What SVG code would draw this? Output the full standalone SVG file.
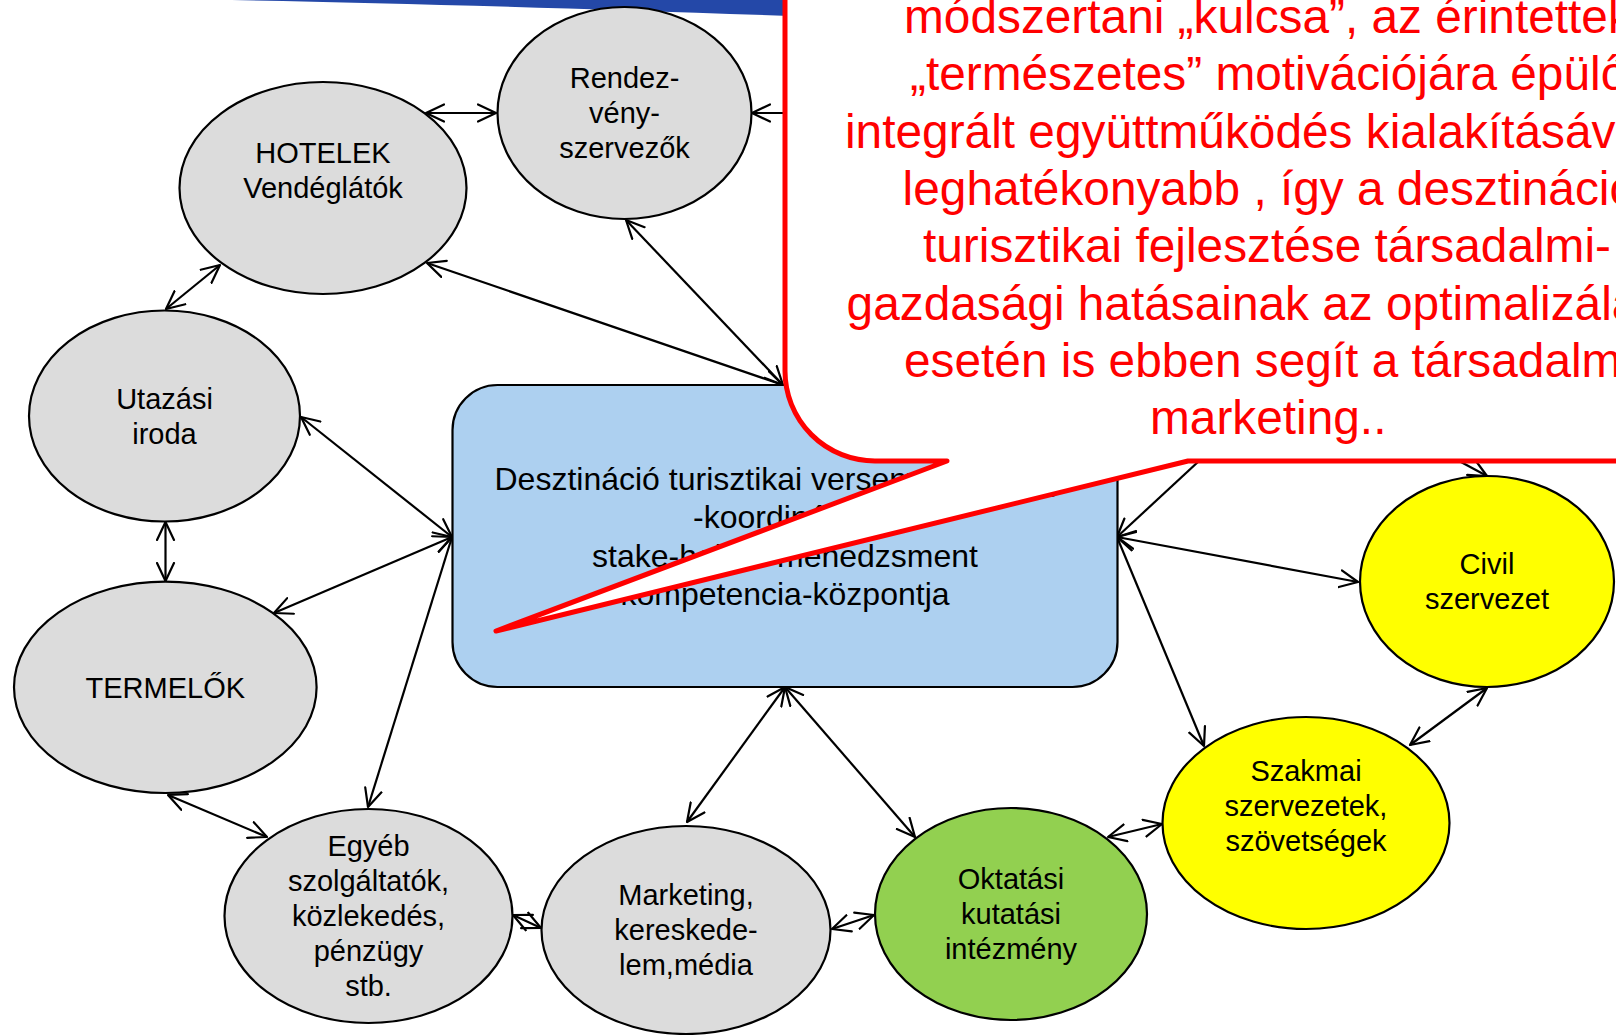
<svg xmlns="http://www.w3.org/2000/svg" width="1616" height="1035" viewBox="0 0 1616 1035">
<defs>
<marker id="arr" viewBox="0 0 20 20" refX="19" refY="10" markerWidth="20" markerHeight="20" markerUnits="userSpaceOnUse" orient="auto-start-reverse">
<path d="M1,1.5 L19,10 L1,18.5" fill="none" stroke="#000" stroke-width="2.2" stroke-linejoin="round" stroke-linecap="round"/>
</marker>
<style>
.c{stroke:#000;stroke-width:2.2;fill:none;marker-start:url(#arr);marker-end:url(#arr)}
.cs{stroke:#000;stroke-width:2.2;fill:none;marker-start:url(#arr)}
.ce{stroke:#000;stroke-width:2.2;fill:none;marker-end:url(#arr)}
.n{stroke:#000;stroke-width:2.2}
.g{fill:#DCDCDC}
.y{fill:#FFFF00}
.gr{fill:#92D050}
.t{font-family:"Liberation Sans",Arial,sans-serif;font-size:29px;fill:#000;text-anchor:middle}
.tb{font-family:"Liberation Sans",Arial,sans-serif;font-size:32px;fill:#000}
.tr{font-family:"Liberation Sans",Arial,sans-serif;font-size:47.8px;fill:#FF0000}
</style>
</defs>
<rect width="1616" height="1035" fill="#FFFFFF"/>
<path id="banner" d="M232,0 Q455,4 790,16 L790,0 Z" fill="#2448A8"/>

<g id="connectors">
<line class="c" x1="426" y1="113" x2="496" y2="113"/>
<line class="cs" x1="752" y1="113" x2="900" y2="113"/>
<line class="c" x1="626" y1="220" x2="783" y2="385"/>
<line class="c" x1="427" y1="263" x2="783" y2="385"/>
<line class="c" x1="220" y1="265" x2="166" y2="309"/>
<line class="c" x1="301" y1="417" x2="452" y2="537"/>
<line class="c" x1="165.5" y1="522" x2="165.5" y2="581"/>
<line class="c" x1="274" y1="613" x2="452" y2="537"/>
<line class="c" x1="368" y1="807" x2="452" y2="537"/>
<line class="c" x1="168" y1="795" x2="267" y2="837"/>
<line class="c" x1="513" y1="915" x2="541" y2="928"/>
<line class="c" x1="687" y1="822" x2="785" y2="687"/>
<line class="c" x1="785" y1="687" x2="915" y2="837"/>
<line class="c" x1="832" y1="929" x2="874" y2="915"/>
<line class="c" x1="1108" y1="837" x2="1162" y2="824"/>
<line class="c" x1="1410" y1="745" x2="1487" y2="688"/>
<line class="c" x1="1117" y1="537" x2="1358" y2="582"/>
<line class="c" x1="1117" y1="537" x2="1204" y2="746"/>
<line class="cs" x1="1117" y1="537" x2="1240" y2="423"/>
<line class="ce" x1="1420" y1="440" x2="1487" y2="476"/>
</g>

<g id="hotelek">
<ellipse class="n g" cx="323" cy="188" rx="143.5" ry="106"/>
<text class="t" x="323" y="163">HOTELEK</text>
<text class="t" x="323" y="198">Vendéglátók</text>
</g>
<g id="rendezvenyszervezok">
<ellipse class="n g" cx="624.5" cy="113" rx="127" ry="106"/>
<text class="t" x="624.5" y="88">Rendez-</text>
<text class="t" x="624.5" y="123">vény-</text>
<text class="t" x="624.5" y="158">szervezők</text>
</g>
<g id="utazasi">
<ellipse class="n g" cx="164.5" cy="416" rx="135.5" ry="105.5"/>
<text class="t" x="164.5" y="408.5">Utazási</text>
<text class="t" x="164.5" y="443.5">iroda</text>
</g>
<g id="termelok">
<ellipse class="n g" cx="165.3" cy="687.3" rx="151.3" ry="105.7"/>
<text class="t" x="165.3" y="697.5">TERMELŐK</text>
</g>
<g id="egyeb">
<ellipse class="n g" cx="368.5" cy="916" rx="144" ry="107"/>
<text class="t" x="368.5" y="856">Egyéb</text>
<text class="t" x="368.5" y="891">szolgáltatók,</text>
<text class="t" x="368.5" y="926">közlekedés,</text>
<text class="t" x="368.5" y="961">pénzügy</text>
<text class="t" x="368.5" y="996">stb.</text>
</g>
<g id="marketing">
<ellipse class="n g" cx="686" cy="930" rx="144.5" ry="104"/>
<text class="t" x="686" y="905">Marketing,</text>
<text class="t" x="686" y="940">kereskede-</text>
<text class="t" x="686" y="975">lem,média</text>
</g>
<g id="oktatasi">
<ellipse class="n gr" cx="1011" cy="914" rx="136" ry="106"/>
<text class="t" x="1011" y="889">Oktatási</text>
<text class="t" x="1011" y="924">kutatási</text>
<text class="t" x="1011" y="959">intézmény</text>
</g>
<g id="szakmai">
<ellipse class="n y" cx="1306" cy="823" rx="143.5" ry="106"/>
<text class="t" x="1306" y="780.5">Szakmai</text>
<text class="t" x="1306" y="815.5">szervezetek,</text>
<text class="t" x="1306" y="850.5">szövetségek</text>
</g>
<g id="civil">
<ellipse class="n y" cx="1487" cy="581.5" rx="127" ry="105.5"/>
<text class="t" x="1487" y="573.5">Civil</text>
<text class="t" x="1487" y="608.5">szervezet</text>
</g>
<g id="kozpont">
<rect class="n" x="452.5" y="385" width="665" height="302" rx="45" ry="45" fill="#ADD0F0"/>
<text class="tb" x="494.5" y="490">Desztináció turisztikai versenyképesség-</text>
<text class="tb" x="693" y="528">-koordinációs</text>
<text class="tb" x="785" y="567" text-anchor="middle">stake-holder menedzsment</text>
<text class="tb" x="785" y="605" text-anchor="middle">kompetencia-központja</text>
</g>

<g id="callout">
<path d="M785,-20 L785,371 A90,90 0 0 0 875,461 L947,461 L496,631 L1188,461 L1640,461 L1640,-20 Z" fill="#FFFFFF" stroke="#FF0000" stroke-width="5" stroke-linejoin="round"/>
<text class="tr" x="904" y="33">módszertani „kulcsa”, az érintettek</text>
<text class="tr" x="910" y="90.3">„természetes” motivációjára épülő</text>
<text class="tr" x="845" y="147.7">integrált együttműködés kialakításával</text>
<text class="tr" x="902.6" y="205">leghatékonyabb , így a desztináció</text>
<text class="tr" x="923" y="262.3">turisztikai fejlesztése társadalmi-</text>
<text class="tr" x="846.6" y="319.7">gazdasági hatásainak az optimalizálása</text>
<text class="tr" x="904" y="377">esetén is ebben segít a társadalmi</text>
<text class="tr" x="1150" y="434.3">marketing..</text>
</g>
</svg>
